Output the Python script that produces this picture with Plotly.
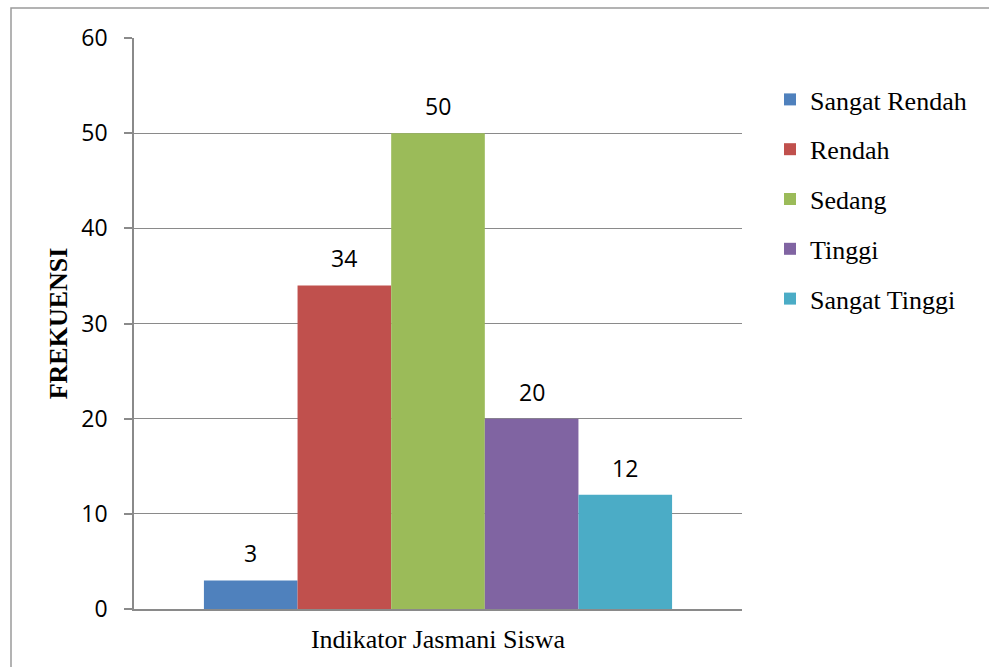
import plotly.graph_objects as go

category = ["Indikator Jasmani Siswa"]
series_names = ["Sangat Rendah", "Rendah", "Sedang", "Tinggi", "Sangat Tinggi"]
series_values = [3, 34, 50, 20, 12]
colors = ["#4F81BD", "#C0504D", "#9BBB59", "#8064A2", "#4BACC6"]
y_ticks = [0, 10, 20, 30, 40, 50, 60]

BARGAP = 0.23
SANS = "Open Sans, Lato, sans-serif"
SERIF = "Liberation Serif, Times New Roman, serif"

fig = go.Figure()
for i, (name, val, col) in enumerate(zip(series_names, series_values, colors)):
    fig.add_trace(go.Bar(
        x=category, y=[val], name=name, marker=dict(color=col, line=dict(width=0)),
        legendgroup=name,
    ))

# data labels above each bar, placed at the bar's own group offset
n = len(series_values)
grp = 1 - BARGAP
for i, val in enumerate(series_values):
    xc = -grp / 2 + (i + 0.5) * grp / n
    fig.add_annotation(x=xc, y=val, xref="x", yref="y", text=str(val),
                       showarrow=False, yanchor="middle", yshift=27,
                       font=dict(family=SANS, size=23, color="#000"))

L, T, PW, PH = 134, 38, 608, 571
W, H = 989, 667
# outer frame
fig.add_shape(type="rect", xref="paper", yref="paper",
              x0=(11 - L) / PW, x1=(W + 20 - L) / PW,
              y0=-(H + 20 - T - PH) / PH, y1=(T + PH - 8) / PH,
              line=dict(color="#9a9a9a", width=1.5), fillcolor="rgba(0,0,0,0)", layer="below")

fig.update_layout(
    width=W, height=H,
    margin=dict(l=L, r=W - L - PW, t=T, b=H - T - PH, autoexpand=False),
    paper_bgcolor="white", plot_bgcolor="white",
    barmode="group", bargap=BARGAP, bargroupgap=0,
    showlegend=True,
    legend=dict(x=(770 - L) / PW, y=(T + PH - 76) / PH, xanchor="left", yanchor="top",
                font=dict(family=SERIF, size=26, color="#000"),
                tracegroupgap=13, itemwidth=30, bgcolor="rgba(0,0,0,0)"),
    xaxis=dict(type="category", showline=True, linecolor="#8a8a8a", linewidth=2,
               ticks="", showgrid=False, tickfont=dict(family=SERIF, size=26, color="#000"),
               ticklabelstandoff=6, range=[-0.5, 0.5], fixedrange=True),
    yaxis=dict(range=[0, 60], tickvals=y_ticks, showline=True, linecolor="#8a8a8a", linewidth=1.5,
               ticks="outside", ticklen=8, tickcolor="#8a8a8a", tickwidth=1.5,
               showgrid=True, gridcolor="#8a8a8a", gridwidth=1.2, zeroline=False,
               tickfont=dict(family=SANS, size=23, color="#000"), ticklabelstandoff=12,
               title=dict(text="<b>FREKUENSI</b>", standoff=6,
                          font=dict(family=SERIF, size=26, color="#000"))),
)

fig.write_html("out.html")
